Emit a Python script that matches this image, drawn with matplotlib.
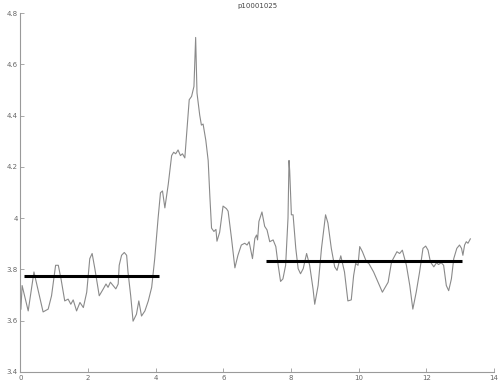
import matplotlib
matplotlib.use("Agg")
import matplotlib.pyplot as plt

# signal trace p10001025
t = [0.015, 0.05, 0.23, 0.40, 0.67, 0.82, 0.92, 1.04, 1.12, 1.20, 1.31, 1.41, 1.49, 1.56,
     1.66, 1.76, 1.86, 1.96, 2.05, 2.12, 2.20, 2.33, 2.45, 2.53, 2.59, 2.66, 2.74, 2.82,
     2.89, 2.92, 2.99, 3.07, 3.14, 3.18, 3.26, 3.33, 3.43, 3.50, 3.58, 3.68, 3.78, 3.88,
     3.97, 4.07, 4.14, 4.20, 4.27, 4.37, 4.47, 4.53, 4.59, 4.66, 4.73, 4.79, 4.86, 4.99,
     5.06, 5.13, 5.18, 5.22, 5.30, 5.35, 5.40, 5.48, 5.55, 5.60, 5.65, 5.72, 5.78, 5.81,
     5.89, 5.99, 6.09, 6.14, 6.24, 6.34, 6.43, 6.53, 6.63, 6.70, 6.76, 6.86, 6.93, 6.98,
     7.01, 7.05, 7.14, 7.22, 7.29, 7.37, 7.47, 7.55, 7.62, 7.69, 7.76, 7.84, 7.91, 7.94,
     7.96, 8.01, 8.06, 8.14, 8.21, 8.28, 8.36, 8.46, 8.55, 8.65, 8.70, 8.80, 8.90, 9.02,
     9.09, 9.19, 9.29, 9.36, 9.47, 9.58, 9.68, 9.78, 9.85, 9.91, 9.98, 10.03, 10.11, 10.23,
     10.30, 10.44, 10.57, 10.70, 10.87, 10.97, 11.13, 11.21, 11.29, 11.41, 11.51, 11.60,
     11.70, 11.80, 11.90, 11.98, 12.05, 12.12, 12.22, 12.30, 12.36, 12.44, 12.51, 12.59,
     12.66, 12.74, 12.81, 12.90, 12.98, 13.04, 13.08, 13.13, 13.18, 13.23, 13.30]
sig = [3.645, 3.737, 3.638, 3.790, 3.634, 3.645, 3.697, 3.816, 3.816, 3.763, 3.677, 3.684,
       3.664, 3.681, 3.638, 3.671, 3.651, 3.711, 3.842, 3.862, 3.803, 3.697, 3.724, 3.743,
       3.730, 3.750, 3.737, 3.724, 3.743, 3.816, 3.855, 3.866, 3.855, 3.790, 3.697, 3.598,
       3.625, 3.677, 3.618, 3.638, 3.677, 3.730, 3.842, 4.000, 4.099, 4.106, 4.040, 4.132,
       4.244, 4.257, 4.251, 4.266, 4.244, 4.251, 4.235, 4.462, 4.475, 4.514, 4.705, 4.488,
       4.402, 4.363, 4.367, 4.304, 4.225, 4.085, 3.961, 3.948, 3.956, 3.910, 3.945, 4.047,
       4.037, 4.027, 3.921, 3.806, 3.855, 3.895, 3.902, 3.895, 3.908, 3.842, 3.921, 3.934,
       3.915, 3.987, 4.024, 3.968, 3.954, 3.908, 3.915, 3.889, 3.816, 3.753, 3.763, 3.816,
       4.000, 4.225, 4.185, 4.013, 4.013, 3.882, 3.803, 3.783, 3.803, 3.862, 3.816, 3.724,
       3.664, 3.737, 3.882, 4.013, 3.981, 3.882, 3.810, 3.796, 3.853, 3.790, 3.677, 3.681,
       3.776, 3.823, 3.816, 3.889, 3.869, 3.829, 3.823, 3.790, 3.750, 3.711, 3.750, 3.829,
       3.869, 3.862, 3.875, 3.816, 3.737, 3.645, 3.711, 3.790, 3.882, 3.891, 3.875, 3.829,
       3.810, 3.826, 3.819, 3.826, 3.816, 3.737, 3.717, 3.763, 3.842, 3.882, 3.895, 3.882,
       3.855, 3.895, 3.908, 3.902, 3.919]

# baseline levels before and after the peak
base1_x = [0.1, 4.09]
base1_y = [3.776, 3.776]
base2_x = [7.25, 13.04]
base2_y = [3.834, 3.834]

fig = plt.figure(figsize=(4.98, 3.85), dpi=100)
ax = fig.add_axes([0.041, 0.034, 0.951, 0.932])

ax.plot(t, sig, color='#8a8a8a', linewidth=0.8)
ax.plot(base1_x, base1_y, color='black', linewidth=2.2, solid_capstyle='butt')
ax.plot(base2_x, base2_y, color='black', linewidth=2.2, solid_capstyle='butt')

ax.set_xlim(0, 14)
ax.set_ylim(3.4, 4.8)
ax.set_xticks(range(0, 15, 2))
ax.set_yticks([3.4, 3.6, 3.8, 4.0, 4.2, 4.4, 4.6, 4.8])
ax.set_yticklabels(['3.4', '3.6', '3.8', '4', '4.2', '4.4', '4.6', '4.8'])

for side in ['top', 'right']:
    ax.spines[side].set_visible(False)
for side in ['left', 'bottom']:
    ax.spines[side].set_color('#9a9a9a')
    ax.spines[side].set_linewidth(0.8)
ax.tick_params(direction='in', length=3, width=0.6, color='#9a9a9a',
               labelsize=5, labelcolor='#666666', pad=2)

ax.set_title('p10001025', fontsize=5, color='#444444', pad=4)

plt.savefig('out.png', dpi=100)
